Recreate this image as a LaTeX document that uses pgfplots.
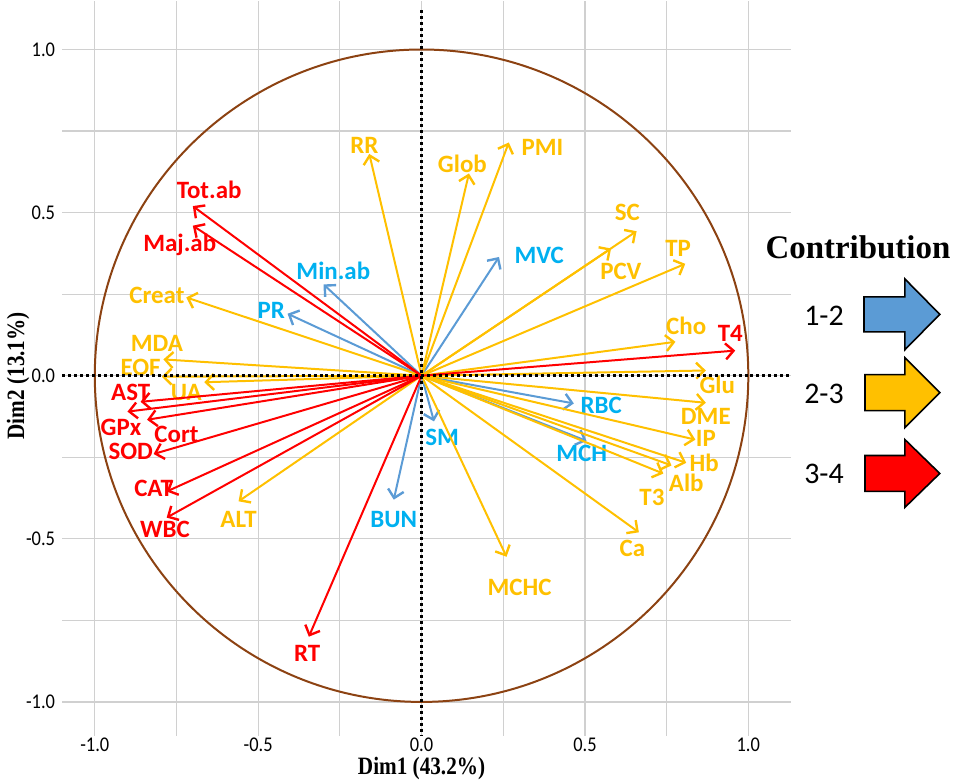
\documentclass[border=0pt]{standalone}
\usepackage{fontspec}
\setmainfont{Liberation Serif}
\newfontfamily\calibri{Carlito}
\newfontfamily\condcal{Carlito}[FakeStretch=0.88]
\newfontfamily\condserif{Liberation Serif}[FakeStretch=0.85]
\usepackage{pgfplots}
\pgfplotsset{compat=1.18}
\usetikzlibrary{arrows.meta}
\definecolor{cblue}{HTML}{5B9BD5}
\definecolor{ctxtblue}{HTML}{00B0F0}
\definecolor{cyel}{HTML}{FFC000}
\definecolor{cred}{HTML}{FF0000}
\definecolor{cbrown}{RGB}{140,66,18}
\definecolor{cgrid}{HTML}{D0D0D0}
\newcommand\V[6]{%
  \addplot[A, color=#1arr] coordinates {(0,0) (#2,#3)};
  \node[lab, text=#1txt] at (axis cs:#4,#5) {#6};
}
\colorlet{barr}{cblue}\colorlet{btxt}{ctxtblue}
\colorlet{yarr}{cyel}\colorlet{ytxt}{cyel}
\colorlet{rarr}{cred}\colorlet{rtxt}{cred}
\begin{document}
\begin{tikzpicture}[
  A/.style={line width=1pt,-{Straight Barb[length=4pt,width=8pt,line width=1.2pt]}},
  lab/.style={font=\calibri\bfseries\fontsize{12.5}{14}\selectfont, inner sep=0pt},
]
\begin{axis}[
  scale only axis, width=365.2pt, height=368.5pt,
  xmin=-1.1, xmax=1.13, ymin=-1.104, ymax=1.15,
  xtick={-1,-0.5,0,0.5,1}, ytick={-1,-0.5,0,0.5,1},
  minor xtick={-0.75,-0.25,0.25,0.75}, minor ytick={-0.75,-0.25,0.25,0.75},
  grid=both, grid style={cgrid, line width=0.6pt}, minor grid style={cgrid, line width=0.6pt},
  axis line style={draw=none}, major tick length=0pt, minor tick length=0pt,
  clip=false,
  tick label style={font=\condcal\fontsize{10.5}{12}\selectfont},
  xticklabel style={inner sep=0pt, yshift=-1pt},
  /pgf/number format/.cd, fixed, fixed zerofill, precision=1, assume math mode=true,
]
% arrows
\V{b}{-0.30}{0.28}{-0.27}{0.32}{Min.ab}
\V{b}{-0.41}{0.19}{-0.46}{0.20}{PR}
\V{b}{0.237}{0.364}{0.36}{0.37}{MVC}
\V{b}{0.466}{-0.085}{0.55}{-0.09}{RBC}
\V{b}{0.505}{-0.20}{0.49}{-0.237}{MCH}
\V{b}{0.038}{-0.14}{0.063}{-0.188}{SM}
\V{b}{-0.085}{-0.38}{-0.085}{-0.44}{BUN}
\V{y}{-0.16}{0.68}{-0.175}{0.705}{RR}
\V{y}{0.145}{0.62}{0.125}{0.65}{Glob}
\V{y}{0.267}{0.715}{0.37}{0.70}{PMI}
\V{y}{0.658}{0.443}{0.63}{0.50}{SC}
\V{y}{0.58}{0.39}{0.61}{0.32}{PCV}
\V{y}{0.807}{0.343}{0.785}{0.39}{TP}
\V{y}{0.777}{0.104}{0.81}{0.153}{Cho}
\V{y}{0.87}{0.016}{0.905}{-0.028}{Glu}
\V{y}{0.87}{-0.083}{0.87}{-0.124}{DME}
\V{y}{0.838}{-0.196}{0.87}{-0.192}{IP}
\V{y}{0.81}{-0.267}{0.865}{-0.266}{Hb}
\V{y}{0.765}{-0.275}{0.81}{-0.328}{Alb}
\V{y}{0.74}{-0.30}{0.705}{-0.372}{T3}
\V{y}{0.665}{-0.48}{0.645}{-0.53}{Ca}
\V{y}{0.26}{-0.555}{0.30}{-0.65}{MCHC}
\V{y}{-0.72}{0.24}{-0.81}{0.245}{Creat}
\V{y}{-0.79}{0.05}{-0.81}{0.099}{MDA}
\V{y}{-0.795}{-0.003}{-0.86}{0.024}{EOF}
\V{y}{-0.665}{-0.02}{-0.72}{-0.05}{UA}
\V{y}{-0.56}{-0.385}{-0.56}{-0.44}{ALT}
\V{r}{-0.70}{0.52}{-0.65}{0.57}{Tot.ab}
\V{r}{-0.70}{0.46}{-0.74}{0.40}{Maj.ab}
\V{r}{0.96}{0.077}{0.945}{0.13}{T4}
\V{r}{-0.86}{-0.08}{-0.89}{-0.05}{AST}
\V{r}{-0.90}{-0.11}{-0.92}{-0.157}{GPx}
\V{r}{-0.84}{-0.135}{-0.75}{-0.18}{Cort}
\V{r}{-0.82}{-0.24}{-0.89}{-0.232}{SOD}
\V{r}{-0.78}{-0.355}{-0.82}{-0.345}{CAT}
\V{r}{-0.78}{-0.435}{-0.785}{-0.47}{WBC}
\V{r}{-0.345}{-0.80}{-0.35}{-0.85}{RT}
% correlation circle
\draw[cbrown, line width=1pt] (axis cs:0,0) ellipse [x radius=1, y radius=1];
% dotted axes
\draw[black, line width=1.5pt, dash pattern=on 1.5pt off 1.5pt] (axis cs:0,1.12) -- (axis cs:0,-1.104);
\draw[black, line width=1.5pt, dash pattern=on 1.5pt off 1.5pt] (axis cs:-1.1,0) -- (axis cs:1.13,0);
% axis titles
\node[inner sep=0pt, font=\condserif\bfseries\fontsize{12.5}{14}\selectfont] at (axis cs:0,-1.104) [yshift=-16.5pt] {Dim1 (43.2\%)};
\node[font=\condserif\bfseries\fontsize{12.5}{14}\selectfont, rotate=90] at (axis cs:-1.235,0) {Dim2 (13.1\%)};
\coordinate (TL) at (axis cs:-1.2901,1.15);
\path (axis cs:-1.2901,1.15) rectangle (axis cs:1.6321,-1.2416);
\end{axis}
\begin{scope}[shift={(TL)}, x=0.5pt, y=-0.5pt]
  \node[font=\bfseries\fontsize{16.5}{18}\selectfont] at (860,247) {Contribution};
  \node[font=\calibri\fontsize{15}{17}\selectfont] at (826,316) {1-2};
  \node[font=\calibri\fontsize{15}{17}\selectfont] at (826,394) {2-3};
  \node[font=\calibri\fontsize{15}{17}\selectfont] at (826,474) {3-4};
  \draw[fill=cblue, line width=0.8pt, line join=miter] (866,297)--(907,297)--(907,279)--(942,314.5)--(907,350)--(907,332)--(866,332)--cycle;
  \draw[fill=cyel, line width=0.8pt, line join=miter] (867,375)--(907,375)--(907,358)--(942,393)--(907,428)--(907,411)--(867,411)--cycle;
  \draw[fill=cred, line width=0.8pt, line join=miter] (867,456)--(907,456)--(907,440)--(942,474)--(907,508)--(907,492)--(867,492)--cycle;
\end{scope}
\end{tikzpicture}
\end{document}
